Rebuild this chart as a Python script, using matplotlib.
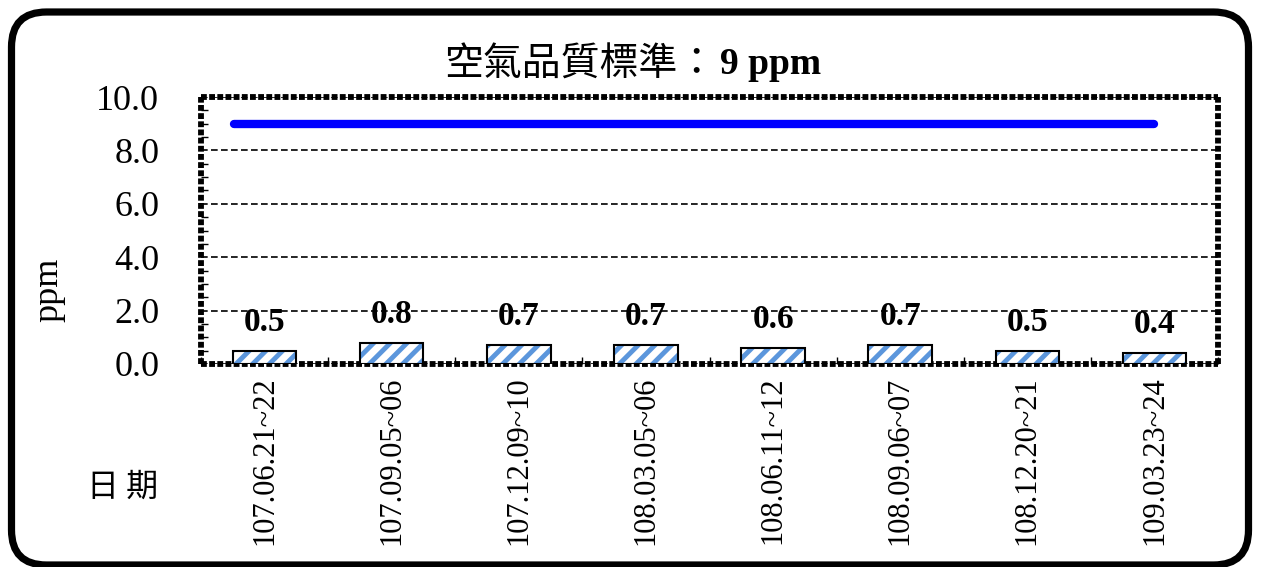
import numpy as np
import matplotlib.pyplot as plt
from matplotlib.patches import FancyBboxPatch

dates = ["107.06.21~22", "107.09.05~06", "107.12.09~10", "108.03.05~06",
         "108.06.11~12", "108.09.06~07", "108.12.20~21", "109.03.23~24"]
values = [0.5, 0.8, 0.7, 0.7, 0.6, 0.7, 0.5, 0.4]
standard = 9
yticks = [0, 2, 4, 6, 8, 10]

serif = "Liberation Serif"
cjk = "Noto Sans CJK TC"
plt.rcParams["hatch.linewidth"] = 3.5

fig = plt.figure(figsize=(12.61, 5.67), dpi=100)
ax = fig.add_axes([201/1261, 1-364/567, 1017/1261, 267/567])

# outer rounded frame (inches from bottom-left)
frame = FancyBboxPatch((0.115, 0.02), 12.37, 5.53,
                       boxstyle="round,pad=0,rounding_size=0.35",
                       transform=fig.dpi_scale_trans, fill=False,
                       edgecolor="black", linewidth=5.2, clip_on=False)
fig.patches.append(frame)

x = np.arange(len(dates))
ax.bar(x, values, width=0.5, color="white", edgecolor="#5b96dc",
       hatch="//", linewidth=0, zorder=3)
ax.bar(x, values, width=0.5, fill=False, edgecolor="black",
       linewidth=1.5, zorder=4)

for xi, v in zip(x, values):
    ax.text(xi, v + 1.07, f"{v:.1f}", ha="center", va="center",
            fontsize=24, fontweight="bold", family=serif, zorder=5)

ax.plot([x[0] - 0.24, x[-1]], [standard, standard], color="#0000ff",
        linewidth=6, solid_capstyle="round", zorder=4)

ax.set_xlim(-0.5, len(dates) - 0.5)
ax.set_ylim(0, 10)
ax.set_yticks(yticks)
ax.set_yticklabels([f"{t:.1f}" for t in yticks], family=serif, fontsize=26)
ax.set_xticks(x)
ax.set_xticklabels(dates, rotation=90, family=serif, fontsize=22)
ax.set_xticks(np.arange(len(dates) + 1) - 0.5, minor=True)
ax.set_yticks(np.arange(0, 10.1, 0.5), minor=True)
ax.tick_params(axis="y", which="major", length=0, pad=30)
ax.tick_params(axis="x", which="major", length=0, pad=9)
ax.tick_params(axis="both", which="minor", direction="in", length=5, width=1)

ax.grid(axis="y", linestyle=(0, (4, 2)), color="black", linewidth=1.2, zorder=1)
for s in ax.spines.values():
    s.set_linestyle((0, (1.0, 0.4)))
    s.set_linewidth(4.2)
    s.set_capstyle("butt")

ax.set_ylabel("ppm", family=serif, fontsize=26)
ax.yaxis.set_label_coords(-0.133, 0.277)

fig.text(716/1261, 1-65/567, "空氣品質標準：", ha="right", va="center",
         family=cjk, fontsize=28)
fig.text(720/1261, 1-65/567, "9 ppm", ha="left", va="center",
         family=serif, fontsize=27, fontweight="bold")
fig.text(123/1261, 1-487/567, "日 期", ha="center", va="center",
         family=cjk, fontsize=23)

fig.savefig("out.png", dpi=100)
